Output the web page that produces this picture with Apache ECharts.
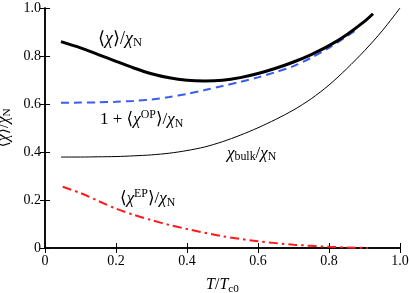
<!DOCTYPE html>
<html>
<head>
<meta charset="utf-8">
<script src="https://cdn.jsdelivr.net/npm/echarts@6/dist/echarts.min.js"></script>
<style>
html,body{margin:0;padding:0;background:#fff;}
#c{width:409px;height:293px;}
</style>
</head>
<body>
<div id="c"></div>
<script>
// Data
var xTicks = [0, 0.2, 0.4, 0.6, 0.8, 1.0];
var yTicks = [0, 0.2, 0.4, 0.6, 0.8, 1.0];

var chiX = [0.045, 0.1, 0.15, 0.2, 0.25, 0.3, 0.35, 0.4, 0.45, 0.5, 0.55, 0.6, 0.65, 0.7, 0.75, 0.8, 0.85, 0.9, 0.924];
var chiY = [0.860, 0.834, 0.806, 0.778, 0.750, 0.726, 0.709, 0.699, 0.696, 0.699, 0.710, 0.727, 0.749, 0.775, 0.806, 0.843, 0.889, 0.944, 0.976];

var opX = [0.045, 0.1, 0.15, 0.2, 0.25, 0.3, 0.35, 0.4, 0.45, 0.5, 0.55, 0.6, 0.65, 0.7, 0.75, 0.8, 0.873];
var opY = [0.605, 0.606, 0.607, 0.609, 0.613, 0.619, 0.629, 0.642, 0.658, 0.675, 0.692, 0.711, 0.733, 0.758, 0.793, 0.834, 0.905];

var bulkX = [0.045, 0.1, 0.15, 0.2, 0.25, 0.3, 0.35, 0.4, 0.45, 0.5, 0.55, 0.6, 0.65, 0.7, 0.75, 0.8, 0.85, 0.9, 0.95, 1.0];
var bulkY = [0.379, 0.379, 0.380, 0.381, 0.384, 0.388, 0.395, 0.406, 0.421, 0.443, 0.470, 0.501, 0.536, 0.575, 0.622, 0.679, 0.747, 0.822, 0.905, 1.0];

var epX = [0.05, 0.1, 0.15, 0.2, 0.25, 0.3, 0.35, 0.4, 0.5, 0.6, 0.7, 0.8, 0.91];
var epY = [0.255, 0.229, 0.196, 0.164, 0.138, 0.116, 0.096, 0.079, 0.049, 0.028, 0.014, 0.005, 0.0];

function pairs(xs, ys){ return xs.map(function(x,i){ return [x, ys[i]]; }); }

var SERIF = '"Liberation Serif","DejaVu Serif",serif';
function tickFmt(v){ return v === 0 ? '0' : v.toFixed(1); }

var chart = echarts.init(document.getElementById('c'), null, {renderer:'canvas'});

var axisCommon = {
  type: 'value', min: 0, max: 1, interval: 0.2,
  axisLine: {show: true, lineStyle: {color: '#000', width: 1.5}},
  axisTick: {show: true, inside: true, length: 5, lineStyle: {color: '#000', width: 1}},
  splitLine: {show: false}
};

function richBase(color, size){
  return {
    n: {fontFamily: SERIF, fontSize: size, color: color},
    i: {fontFamily: SERIF, fontSize: size, fontStyle: 'italic', color: color},
    sub: {fontFamily: SERIF, fontSize: size*0.7, color: color, padding: [size*0.45,0,0,0]},
    sup: {fontFamily: SERIF, fontSize: size*0.7, color: color, padding: [0,0,size*0.55,0]}
  };
}

var option = {
  animation: false,
  backgroundColor: '#fff',
  grid: {left: 45, right: 9, top: 8, bottom: 45, containLabel: false, outerBoundsMode: 'none'},
  xAxis: [
    Object.assign({}, axisCommon, {
      position: 'bottom',
      axisLabel: {show: true, formatter: tickFmt, fontFamily: SERIF, fontSize: 14, color: '#000', margin: 6},
      name: '{i|T}{n|/}{i|T}{sub|c0}',
      nameLocation: 'middle', nameGap: 28,
      nameTextStyle: {rich: richBase('#000', 16)}
    }),
    Object.assign({}, axisCommon, {position: 'top', axisLabel: {show: false}})
  ],
  yAxis: [
    Object.assign({}, axisCommon, {
      position: 'left',
      axisLabel: {show: true, formatter: tickFmt, fontFamily: SERIF, fontSize: 14, color: '#000', margin: 4},
      name: '{n|⟨}{i|χ}{n|⟩/}{i|χ}{sub|N}',
      nameLocation: 'middle', nameGap: 30,
      nameTextStyle: {rich: richBase('#000', 16)}
    }),
    Object.assign({}, axisCommon, {position: 'right', axisLabel: {show: false}})
  ],
  series: [
    {type: 'line', data: pairs(bulkX, bulkY), smooth: 0.3, showSymbol: false,
     lineStyle: {color: '#000', width: 1}},
    {type: 'line', data: pairs(opX, opY), smooth: 0.3, showSymbol: false,
     lineStyle: {color: '#3a5cf2', width: 2, type: [8, 5]}},
    {type: 'line', data: pairs(epX, epY), smooth: 0.3, showSymbol: false,
     lineStyle: {color: '#ff1a1a', width: 2, type: [9, 4, 2.5, 4]}},
    {type: 'line', data: pairs(chiX, chiY), smooth: 0.3, showSymbol: false,
     lineStyle: {color: '#000', width: 3}}
  ],
  graphic: [
    {type: 'text', left: 98, top: 30, style: {
      text: '{n|⟨}{i|χ}{n|⟩/}{i|χ}{sub|N}', rich: richBase('#000', 18)}},
    {type: 'text', left: 100, top: 109, style: {
      text: '{n|1 + ⟨}{i|χ}{sup|OP}{n|⟩/}{i|χ}{sub|N}', rich: richBase('#3a5cf2', 17)}},
    {type: 'text', left: 227, top: 145, style: {
      text: '{i|χ}{sub|bulk}{n|/}{i|χ}{sub|N}', rich: richBase('#000', 17)}},
    {type: 'text', left: 120, top: 188, style: {
      text: '{n|⟨}{i|χ}{sup|EP}{n|⟩/}{i|χ}{sub|N}', rich: richBase('#ff1a1a', 17)}}
  ]
};
chart.setOption(option);
</script>
</body>
</html>
